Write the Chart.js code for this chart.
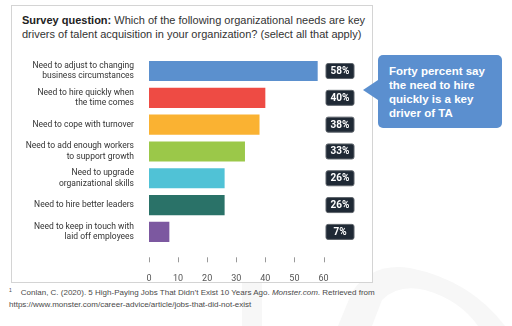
<!DOCTYPE html>
<html>
<head>
<meta charset="utf-8">
<script src="https://cdn.jsdelivr.net/npm/chart.js@4.4.1/dist/chart.umd.min.js"></script>
<style>
  body { margin: 0; width: 512px; height: 326px; background: #fff; overflow: hidden; position: relative; font-family: "Liberation Sans", Arial, sans-serif; }
  #mark { position: absolute; left: 0; top: 0; }
  #frame { position: absolute; left: 11px; top: 5px; width: 362px; height: 278px; box-sizing: border-box; border: 1px solid #d4d4d4; background: #fff; }
  #title { position: absolute; left: 22px; top: 13px; font-size: 11px; line-height: 14px; color: #333; }
  #title b { color: #222; }
  #wrap { position: absolute; left: 11px; top: 40px; width: 360px; height: 241px; }
  #callout { position: absolute; left: 378px; top: 55px; width: 124px; height: 73px; box-sizing: border-box; padding: 9px 0 0 11px;
             background: #5b8fcf; border-radius: 5px; color: #fff; font-weight: bold; font-size: 11.5px; line-height: 14px; }
  #callout::before { content: ""; position: absolute; left: -15px; top: 25px; border-top: 10px solid transparent;
                     border-bottom: 10px solid transparent; border-right: 15px solid #5b8fcf; }
  #note { position: absolute; left: 9px; top: 284px; font-size: 8px; line-height: 12px; color: #4a4a4a; white-space: nowrap; }
  #note sup { font-size: 5px; vertical-align: 3px; margin-right: 9px; }
</style>
</head>
<body>
<!-- faint slide background shapes -->
<svg id="mark" width="512" height="326">
  <rect x="242" y="270" width="20" height="56" fill="#f7f7f7"/>
  <path d="M338 326 L352 292 Q372 262 410 268 Q470 280 505 326 Z" fill="#f7f7f7"/>
  <path d="M372 326 L382 300 Q398 284 425 290 Q460 300 478 326 Z" fill="#fff"/>
</svg>
<div id="frame"></div>
<div id="title"><b>Survey question:</b> Which of the following organizational needs are key<br>drivers of talent acquisition in your organization? (select all that apply)</div>
<div id="wrap"><canvas id="needsChart" width="360" height="241"></canvas></div>
<div id="callout">Forty percent say<br>the need to hire<br>quickly is a key<br>driver of TA</div>
<div id="note"><sup>1</sup>Conlan, C. (2020). 5 High-Paying Jobs That Didn’t Exist 10 Years Ago. <i>Monster.com</i>. Retrieved from<br>https://www.monster.com/career-advice/article/jobs-that-did-not-exist</div>

<script>
// survey answers, one bar per need
const needs = [
  ["Need to adjust to changing", "business circumstances"],
  ["Need to hire quickly when", "the time comes"],
  ["Need to cope with turnover"],
  ["Need to add enough workers", "to support growth"],
  ["Need to upgrade", "organizational skills"],
  ["Need to hire better leaders"],
  ["Need to keep in touch with", "laid off employees"]
];
const shares = [58, 40, 38, 33, 26, 26, 7];
const xTicks = [0, 10, 20, 30, 40, 50, 60];

const barColors = ["#5b90ce", "#ee4b44", "#fab232", "#9bc849", "#50c2d6", "#2a7268", "#7c58a0"];

// dark percentage badges to the right of the plot
const valueBoxes = {
  id: "valueBoxes",
  afterDatasetsDraw(chart) {
    const ctx = chart.ctx;
    const x = chart.scales.x.getPixelForValue(xTicks[xTicks.length - 1]);
    const bars = chart.getDatasetMeta(0).data;
    ctx.save();
    bars.forEach((bar, i) => {
      const left = x + 2.5, w = 28, h = 15;
      ctx.fillStyle = "#1f2935";
      ctx.strokeStyle = "#5d636a";
      ctx.lineWidth = 1;
      ctx.beginPath();
      ctx.roundRect(left, bar.y - h / 2, w, h, 2);
      ctx.fill();
      ctx.stroke();
      ctx.fillStyle = "#fff";
      ctx.font = "bold 10px Roboto";
      ctx.textAlign = "center";
      ctx.textBaseline = "middle";
      ctx.fillText(shares[i] + "%", left + w / 2, bar.y + 0.5);
    });
    ctx.restore();
  }
};

// short tick marks sitting above the x labels
const tickMarks = {
  id: "tickMarks",
  afterDraw(chart) {
    const ctx = chart.ctx;
    const scale = chart.scales.x;
    const y0 = chart.chartArea.bottom + 12;
    ctx.save();
    ctx.strokeStyle = "#999";
    ctx.lineWidth = 1;
    xTicks.forEach(v => {
      const px = Math.round(scale.getPixelForValue(v)) + 0.5;
      ctx.beginPath();
      ctx.moveTo(px, y0);
      ctx.lineTo(px, y0 + 5);
      ctx.stroke();
    });
    ctx.restore();
  }
};

function initChart(target) {
  return new Chart(target, {
    type: "bar",
    data: {
      labels: needs,
      datasets: [{
        data: shares,
        backgroundColor: barColors,
        borderWidth: 0,
        categoryPercentage: 1,
        barPercentage: 0.75
      }]
    },
    options: {
      responsive: false,
      animation: false,
      indexAxis: "y",
      devicePixelRatio: 1,
      layout: { padding: { top: 10.5, right: 47.5, left: 0, bottom: 0 } },
      plugins: { legend: { display: false }, tooltip: { enabled: false } },
      scales: {
        x: {
          min: 0,
          max: 60,
          ticks: { stepSize: 10, padding: 20, color: "#555", font: { family: "Roboto", size: 9 } },
          grid: { display: false },
          border: { display: false },
          afterFit(scale) { scale.height = 35.7; }
        },
        y: {
          ticks: { padding: 7, color: "#333", font: { family: "Roboto", size: 8.5, lineHeight: 1.25 } },
          grid: { display: false },
          border: { display: false },
          afterFit(scale) { scale.width = 138; }
        }
      }
    },
    plugins: [valueBoxes, tickMarks]
  });
}

document.fonts.load("10px Roboto").then(() => initChart(document.querySelector("#needsChart")));
</script>
</body>
</html>
